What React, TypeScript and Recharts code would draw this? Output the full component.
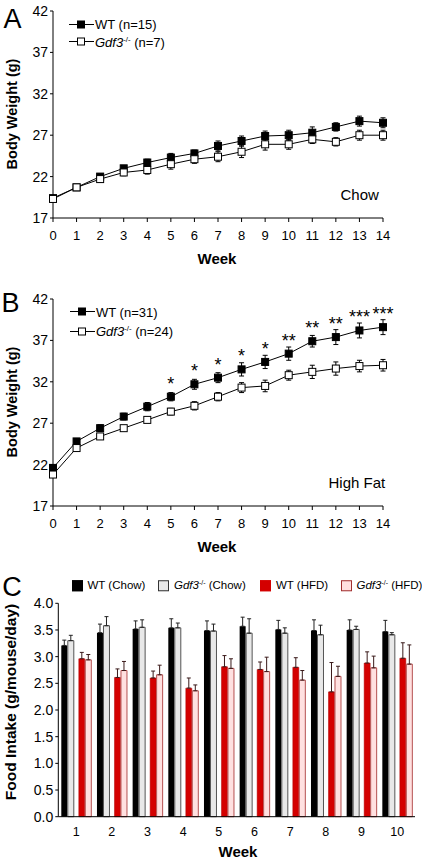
import React from "react";
import { LineChart, Line, XAxis, YAxis, ErrorBar, LabelList, BarChart, Bar } from "recharts";

// weeks on diet (panels A, B)
const weeks = [0, 1, 2, 3, 4, 5, 6, 7, 8, 9, 10, 11, 12, 13, 14];
const weightTicks = [17, 22, 27, 32, 37, 42];

// A: chow, body weight (g) mean and SEM
const wtChow = [19.4, 20.7, 22.0, 23.0, 23.7, 24.3, 24.8, 25.7, 26.3, 26.9, 27.0, 27.3, 28.0, 28.7, 28.5];
const wtChowErr = [0.3, 0.2, 0.3, 0.3, 0.4, 0.5, 0.4, 0.6, 0.6, 0.6, 0.6, 0.7, 0.5, 0.6, 0.6];
const koChow = [19.3, 20.7, 21.7, 22.5, 22.8, 23.5, 24.1, 24.4, 25.0, 25.9, 25.9, 26.5, 26.2, 27.0, 27.0];
const koChowErr = [0.4, 0.2, 0.4, 0.4, 0.5, 0.6, 0.5, 0.6, 0.7, 0.7, 0.6, 0.5, 0.5, 0.6, 0.6];

// B: high fat diet
const wtHfd = [21.6, 24.8, 26.4, 27.8, 29.0, 30.2, 31.7, 32.5, 33.5, 34.4, 35.4, 36.9, 37.4, 38.2, 38.6];
const wtHfdErr = [0.3, 0.3, 0.4, 0.4, 0.5, 0.5, 0.6, 0.6, 0.8, 0.8, 0.8, 0.7, 0.9, 0.9, 0.9];
const koHfd = [20.8, 24.0, 25.4, 26.4, 27.4, 28.4, 29.1, 30.2, 31.3, 31.5, 32.8, 33.2, 33.6, 33.9, 34.0];
const koHfdErr = [0.3, 0.3, 0.3, 0.3, 0.3, 0.4, 0.5, 0.5, 0.6, 0.7, 0.6, 0.8, 0.8, 0.7, 0.7];
const hfdStars = ["", "", "", "", "", "*", "*", "*", "*", "*", "**", "**", "**", "***", "***"];

const chowCounts = [15, 7];
const hfdCounts = [31, 24];

// C: food intake (g/mouse/day)
const foodWeeks = ["1", "2", "3", "4", "5", "6", "7", "8", "9", "10"];
const intakeTicks = [0, 0.5, 1, 1.5, 2, 2.5, 3, 3.5, 4];
const foodWtChow = [3.21, 3.45, 3.52, 3.54, 3.49, 3.57, 3.51, 3.49, 3.5, 3.47];
const foodWtChowErr = [0.1, 0.16, 0.15, 0.17, 0.18, 0.17, 0.17, 0.2, 0.19, 0.21];
const foodKoChow = [3.3, 3.58, 3.55, 3.54, 3.48, 3.44, 3.44, 3.41, 3.51, 3.41];
const foodKoChowErr = [0.1, 0.17, 0.14, 0.09, 0.13, 0.27, 0.1, 0.18, 0.06, 0.04];
const foodWtHfd = [2.96, 2.61, 2.6, 2.41, 2.81, 2.76, 2.8, 2.34, 2.88, 2.97];
const foodWtHfdErr = [0.12, 0.16, 0.13, 0.19, 0.21, 0.14, 0.18, 0.55, 0.21, 0.29];
const foodKoHfd = [2.94, 2.74, 2.66, 2.36, 2.78, 2.72, 2.56, 2.63, 2.79, 2.86];
const foodKoHfdErr = [0.1, 0.17, 0.18, 0.11, 0.18, 0.27, 0.18, 0.19, 0.22, 0.36];

const FONT = "'Liberation Sans', Arial, Helvetica, sans-serif";

const chowRows = weeks.map((w, i) => ({
  week: w,
  wt: wtChow[i],
  wtErr: wtChowErr[i],
  ko: koChow[i],
  koErr: koChowErr[i],
}));

const hfdRows = weeks.map((w, i) => ({
  week: w,
  wt: wtHfd[i],
  wtErr: wtHfdErr[i],
  ko: koHfd[i],
  koErr: koHfdErr[i],
  sig: hfdStars[i],
}));

const foodRows = foodWeeks.map((w, i) => ({
  week: w,
  wtChow: foodWtChow[i],
  wtChowErr: [0, foodWtChowErr[i]],
  koChow: foodKoChow[i],
  koChowErr: [0, foodKoChowErr[i]],
  wtHfd: foodWtHfd[i],
  wtHfdErr: [0, foodWtHfdErr[i]],
  koHfd: foodKoHfd[i],
  koHfdErr: [0, foodKoHfdErr[i]],
}));

const squareDot = (fill: string) => (props: any) => {
  const { cx, cy, index } = props;
  if (cx == null || cy == null) return <g key={`e-${index}`} />;
  return (
    <rect key={`sq-${fill}-${index}`} x={cx - 3.5} y={cy - 3.5} width={7} height={7}
      fill={fill} stroke="#000" strokeWidth={1} />
  );
};

const renderStars = (props: any) => {
  const { x, y, value, index } = props;
  if (!value) return null;
  return (
    <text key={`st-${index}`} x={x} y={y - 7} textAnchor="middle" fontSize={18}
      fontFamily={FONT} fill="#000">
      {value}
    </text>
  );
};

const Gene = () => (
  <>
    <i>Gdf3</i>
    <sup style={{ fontSize: "0.6em", verticalAlign: "0.6em", lineHeight: 0 }}>-/-</sup>
  </>
);

const Txt = ({ x, y, size, bold, rotate, left, children }: any) => (
  <div
    style={{
      position: "absolute",
      left: x,
      top: y,
      transform: `translate(${left ? "0" : "-50%"}, -50%)${rotate ? " rotate(-90deg)" : ""}`,
      fontSize: size,
      fontWeight: bold ? "bold" : "normal",
      whiteSpace: "nowrap",
      lineHeight: 1,
    }}
  >
    {children}
  </div>
);

const LineKey = ({ x, y, filled, children }: any) => (
  <div
    style={{
      position: "absolute", left: x, top: y, transform: "translateY(-50%)",
      display: "flex", alignItems: "center", fontSize: 13, whiteSpace: "nowrap", lineHeight: 1,
    }}
  >
    <svg width={25} height={10} style={{ marginRight: 1 }}>
      <line x1={0} x2={25} y1={5} y2={5} stroke="#000" strokeWidth={1} />
      <rect x={8.5} y={1.5} width={7} height={7} fill={filled ? "#000" : "#fff"} stroke="#000" />
    </svg>
    <span>{children}</span>
  </div>
);

const BarKey = ({ x, y, fill, stroke, children }: any) => (
  <div
    style={{
      position: "absolute", left: x, top: y, transform: "translateY(-50%)",
      display: "flex", alignItems: "center", fontSize: 11.5, whiteSpace: "nowrap", lineHeight: 1,
    }}
  >
    <div style={{ width: 9, height: 9, background: fill, border: `1px solid ${stroke}`, marginRight: 5 }} />
    <span>{children}</span>
  </div>
);

const axisTick = { fontSize: 13, fill: "#000", fontFamily: FONT };
const yTick = { fontSize: 14, fill: "#000", fontFamily: FONT };

function WeightChart({ rows, stars }: { rows: any[]; stars?: boolean }) {
  return (
    <LineChart width={422} height={270} data={rows} margin={{ top: 11, right: 39, left: 0, bottom: 0 }}>
      <XAxis type="number" dataKey="week" domain={[0, 14]} ticks={weeks} interval={0}
        height={52} tickSize={4} tickMargin={9} tick={axisTick}
        axisLine={{ stroke: "#000" }} tickLine={{ stroke: "#000" }} />
      <YAxis type="number" domain={[17, 42]} ticks={weightTicks} interval={0}
        width={53} tickSize={3} tickMargin={2} tick={yTick}
        axisLine={{ stroke: "#000" }} tickLine={{ stroke: "#000" }} />
      <Line dataKey="wt" stroke="#000" strokeWidth={1} dot={squareDot("#000")} isAnimationActive={false}>
        <ErrorBar dataKey="wtErr" direction="y" width={2.5} stroke="#000" strokeWidth={1} />
        {stars && <LabelList dataKey="sig" content={renderStars} />}
      </Line>
      <Line dataKey="ko" stroke="#000" strokeWidth={1} dot={squareDot("#fff")} isAnimationActive={false}>
        <ErrorBar dataKey="koErr" direction="y" width={2.5} stroke="#000" strokeWidth={1} />
      </Line>
    </LineChart>
  );
}

export default function App() {
  return (
    <div style={{ position: "absolute", left: 0, top: 0, width: 422, height: 859, background: "#fff", fontFamily: FONT, color: "#000", overflow: "hidden" }}>
      {/* A */}
      <div style={{ position: "absolute", left: 0, top: 0 }}>
        <WeightChart rows={chowRows} />
      </div>
      <Txt x={12.5} y={18.5} size={27}>A</Txt>
      <Txt x={11.5} y={114} size={14.5} bold rotate>Body Weight (g)</Txt>
      <Txt x={217} y={257.5} size={15} bold>Week</Txt>
      <Txt x={340.5} y={194} size={15} left>Chow</Txt>
      <LineKey x={69} y={24} filled>WT (n={chowCounts[0]})</LineKey>
      <LineKey x={69} y={41.5}><Gene /> (n={chowCounts[1]})</LineKey>

      {/* B */}
      <div style={{ position: "absolute", left: 0, top: 288 }}>
        <WeightChart rows={hfdRows} stars />
      </div>
      <Txt x={10.5} y={302.5} size={27}>B</Txt>
      <Txt x={11.5} y={402} size={14.5} bold rotate>Body Weight (g)</Txt>
      <Txt x={217} y={545.5} size={15} bold>Week</Txt>
      <Txt x={328.5} y={481.5} size={15} left>High Fat</Txt>
      <LineKey x={70} y={311.5} filled>WT (n={hfdCounts[0]})</LineKey>
      <LineKey x={70} y={331}><Gene /> (n={hfdCounts[1]})</LineKey>

      {/* C */}
      <div style={{ position: "absolute", left: 0, top: 570 }}>
        <BarChart width={422} height={289} data={foodRows} barGap={0.5}
          margin={{ top: 33.3, right: 7, left: 0, bottom: 0 }}>
          <XAxis dataKey="week" interval={0} height={42.3} tickLine={false} tickSize={0} tickMargin={10}
            tick={{ ...axisTick, fontSize: 12.5 }} axisLine={{ stroke: "#000" }} />
          <YAxis type="number" domain={[0, 4]} ticks={intakeTicks} interval={0} width={58.3}
            tickSize={3} tickMargin={2} tick={yTick} tickFormatter={(v: number) => v.toFixed(1)}
            axisLine={{ stroke: "#000" }} tickLine={{ stroke: "#000" }} />
          <Bar dataKey="wtChow" barSize={6} fill="#000" isAnimationActive={false}>
            <ErrorBar dataKey="wtChowErr" direction="y" width={2} stroke="#222" strokeWidth={1} />
          </Bar>
          <Bar dataKey="koChow" barSize={6} fill="#e8e8e8" stroke="#555" strokeWidth={1} isAnimationActive={false}>
            <ErrorBar dataKey="koChowErr" direction="y" width={2} stroke="#222" strokeWidth={1} />
          </Bar>
          <Bar dataKey="gap" barSize={4} fill="none" legendType="none" isAnimationActive={false} />
          <Bar dataKey="wtHfd" barSize={6} fill="#d40000" stroke="#b00000" strokeWidth={0.5} isAnimationActive={false}>
            <ErrorBar dataKey="wtHfdErr" direction="y" width={2} stroke="#3a1a1a" strokeWidth={1} />
          </Bar>
          <Bar dataKey="koHfd" barSize={6} fill="#ffe0e0" stroke="#b55050" strokeWidth={1} isAnimationActive={false}>
            <ErrorBar dataKey="koHfdErr" direction="y" width={2} stroke="#3a1a1a" strokeWidth={1} />
          </Bar>
        </BarChart>
      </div>
      <Txt x={12} y={586.5} size={27}>C</Txt>
      <Txt x={10.5} y={702} size={15.5} bold rotate>Food Intake (g/mouse/day)</Txt>
      <Txt x={238} y={851} size={15} bold>Week</Txt>
      <BarKey x={71.5} y={585.5} fill="#000" stroke="#000">WT (Chow)</BarKey>
      <BarKey x={158} y={585.5} fill="#e8e8e8" stroke="#333"><Gene /> (Chow)</BarKey>
      <BarKey x={260} y={585.5} fill="#d40000" stroke="#d40000">WT (HFD)</BarKey>
      <BarKey x={340.5} y={585.5} fill="#ffe0e0" stroke="#a03030"><Gene /> (HFD)</BarKey>
    </div>
  );
}
